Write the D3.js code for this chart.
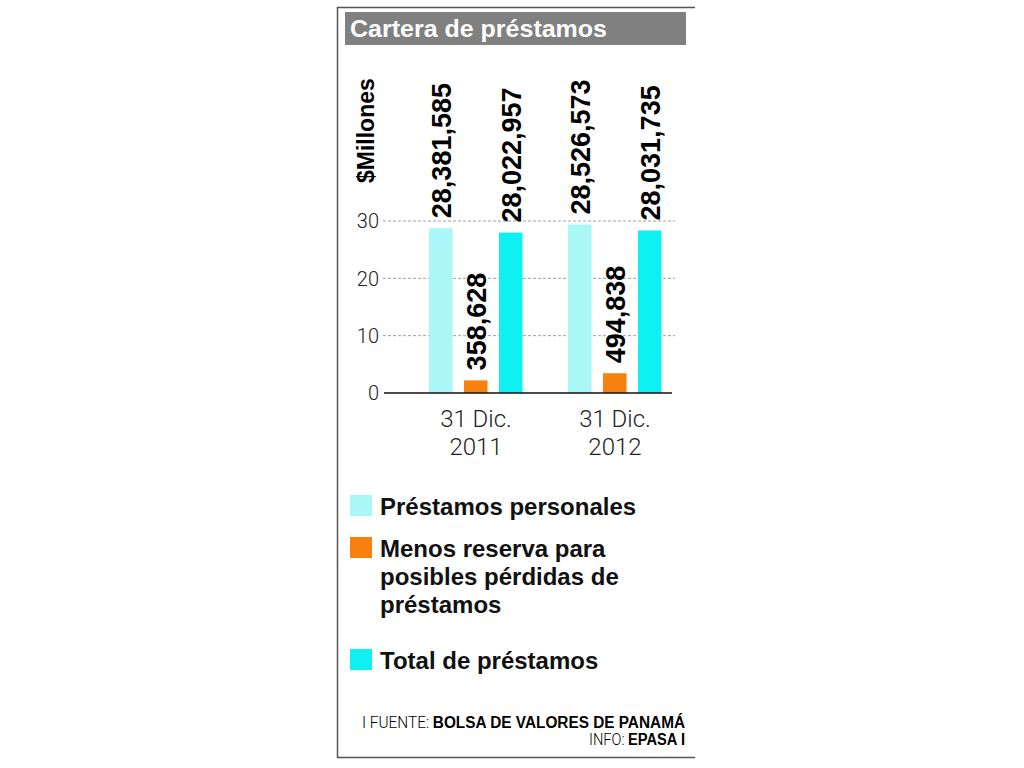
<!DOCTYPE html>
<html>
<head>
<meta charset="utf-8">
<script src="https://cdn.jsdelivr.net/npm/d3@7"></script>
<style>
  body { margin: 0; background: #fff; }
  text { font-family: "Liberation Sans", Arial, sans-serif; }
  .light { font-family: Roboto, "Open Sans", sans-serif; font-weight: 300; }
</style>
</head>
<body>
<script>
// Datos (millones de dólares)
const fechas = ["31 Dic.|2011", "31 Dic.|2012"];
const series = ["Préstamos personales", "Menos reserva para posibles pérdidas de préstamos", "Total de préstamos"];
const personales = [28.75, 29.38];        // altura dibujada
const reserva = [2.2, 3.45];              // el original exagera estas barras
const total = [27.98, 28.35];
const etiquetasPersonales = ["28,381,585", "28,526,573"];
const etiquetasReserva = ["358,628", "494,838"];
const etiquetasTotal = ["28,022,957", "28,031,735"];
const ticks = [0, 10, 20, 30];
const colores = ["#aaf7f7", "#f8800f", "#0ff0f2"];

const width = 1024, height = 768;

const svg = d3.select("body").append("svg")
    .attr("width", width)
    .attr("height", height);

// Marco
svg.append("path")
    .attr("d", "M695,7.5H337.5V757.5H695")
    .attr("fill", "none")
    .attr("stroke", "#555")
    .attr("stroke-width", 1.5);

// Título
svg.append("rect")
    .attr("x", 345).attr("y", 12)
    .attr("width", 341).attr("height", 33)
    .attr("fill", "#808080");
svg.append("text")
    .attr("x", 350).attr("y", 37)
    .attr("fill", "#fff")
    .attr("font-size", 24)
    .attr("font-weight", "bold")
    .attr("textLength", 257)
    .attr("lengthAdjust", "spacingAndGlyphs")
    .text("Cartera de préstamos");

// Escalas
const y = d3.scaleLinear().domain([0, 30]).range([393, 221]);
const x0 = d3.scaleBand().domain(fechas).range([429, 660]).paddingInner(0.338);
const x1 = d3.scalePoint().domain([0, 1, 2]).range([0, 70]);
const barW = 23.5;

// Rejilla
svg.append("g")
    .selectAll("line")
    .data(ticks.filter(d => d > 0))
    .join("line")
    .attr("x1", 383).attr("x2", 675)
    .attr("y1", d => y(d)).attr("y2", d => y(d))
    .attr("stroke", "#a0a0a0")
    .attr("stroke-width", 1)
    .attr("stroke-dasharray", "3,2");

// Etiquetas del eje Y
svg.append("g")
    .selectAll("text")
    .data(ticks)
    .join("text")
    .attr("class", "light")
    .attr("x", 379)
    .attr("y", d => y(d))
    .attr("dy", "0.36em")
    .attr("text-anchor", "end")
    .attr("font-size", 20)
    .attr("fill", "#222")
    .text(d => d);

svg.append("text")
    .attr("transform", "translate(374,183) rotate(-90)")
    .attr("font-size", 23)
    .attr("font-weight", "bold")
    .text("$Millones");

// Barras
const filas = fechas.map((f, i) => [
    { f, s: 0, v: personales[i], t: etiquetasPersonales[i] },
    { f, s: 1, v: reserva[i], t: etiquetasReserva[i] },
    { f, s: 2, v: total[i], t: etiquetasTotal[i] }
]).flat();

const grupoX = d => x0(d.f) + x1(d.s);

svg.append("g")
    .selectAll("rect")
    .data(filas)
    .join("rect")
    .attr("x", grupoX)
    .attr("y", d => y(d.v))
    .attr("width", barW)
    .attr("height", d => y(0) - y(d.v))
    .attr("fill", d => colores[d.s]);

svg.append("g")
    .selectAll("text")
    .data(filas)
    .join("text")
    .attr("transform", d => `translate(${grupoX(d) + barW / 2 + 10},${y(d.v) - 10}) rotate(-90)`)
    .attr("font-size", 27)
    .attr("font-weight", "bold")
    .text(d => d.t);

// Línea base
svg.append("line")
    .attr("x1", 384).attr("x2", 672)
    .attr("y1", y(0)).attr("y2", y(0))
    .attr("stroke", "#111")
    .attr("stroke-width", 1.5);

// Etiquetas del eje X
const xl = svg.append("g")
    .selectAll("text")
    .data(fechas)
    .join("text")
    .attr("class", "light")
    .attr("text-anchor", "middle")
    .attr("font-size", 24)
    .attr("fill", "#222");
xl.selectAll("tspan")
    .data(d => d.split("|").map(t => ({ t, d })))
    .join("tspan")
    .attr("x", d => x0(d.d) + x0.bandwidth() / 2 + 1)
    .attr("y", (d, i) => 427 + i * 28)
    .text(d => d.t);

// Leyenda
const leyenda = [
    { lineas: ["Préstamos personales"], y: 495 },
    { lineas: ["Menos reserva para", "posibles pérdidas de", "préstamos"], y: 537 },
    { lineas: ["Total de préstamos"], y: 649 }
];
const li = svg.append("g")
    .selectAll("g")
    .data(leyenda)
    .join("g")
    .attr("transform", d => `translate(350,${d.y})`);
li.append("rect")
    .attr("width", 22).attr("height", 21)
    .attr("fill", (d, i) => colores[i]);
li.append("text")
    .attr("font-size", 24)
    .attr("font-weight", "bold")
    .attr("fill", "#111")
    .selectAll("tspan")
    .data(d => d.lineas)
    .join("tspan")
    .attr("x", 30)
    .attr("y", (d, i) => 20 + i * 28)
    .text(d => d);

// Fuente
const f1 = svg.append("text")
    .attr("x", 685).attr("y", 728)
    .attr("text-anchor", "end")
    .attr("font-size", 16)
    .attr("textLength", 323)
    .attr("lengthAdjust", "spacingAndGlyphs");
f1.append("tspan").attr("class", "light").attr("font-weight", 400).text("I FUENTE: ");
f1.append("tspan").attr("font-weight", "bold").text("BOLSA DE VALORES DE PANAMÁ");

const f2 = svg.append("text")
    .attr("x", 685).attr("y", 745)
    .attr("text-anchor", "end")
    .attr("font-size", 16)
    .attr("textLength", 96)
    .attr("lengthAdjust", "spacingAndGlyphs");
f2.append("tspan").attr("class", "light").attr("font-weight", 400).text("INFO: ");
f2.append("tspan").attr("font-weight", "bold").text("EPASA I");
</script>
</body>
</html>
